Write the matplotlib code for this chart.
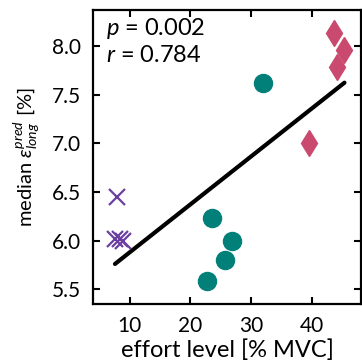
import numpy as np
import matplotlib
matplotlib.use("Agg")
import matplotlib.pyplot as plt

plt.rcParams['font.family'] = ['Lato', 'DejaVu Sans']
plt.rcParams['mathtext.fontset'] = 'custom'
plt.rcParams['mathtext.rm'] = 'Lato'
plt.rcParams['mathtext.it'] = 'Lato:italic'

# datos
x_low = [7.9, 7.6, 8.4, 9.0]
y_low = [6.45, 6.02, 6.02, 6.0]
x_mid = [31.85, 23.6, 26.9, 25.7, 22.7]
y_mid = [7.62, 6.23, 6.0, 5.80, 5.585]
x_high = [43.5, 45.3, 44.1, 39.4]
y_high = [8.13, 7.96, 7.78, 7.0]

x_all = np.array(x_low + x_mid + x_high)
y_all = np.array(y_low + y_mid + y_high)
m, b = np.polyfit(x_all, y_all, 1)
xf = np.array([x_all.min(), x_all.max()])

fig = plt.figure(figsize=(3.62, 3.64), dpi=100)
ax = fig.add_axes([0.257, 0.165, 0.740, 0.808])

ax.plot(xf, m * xf + b, color='black', lw=3, solid_capstyle='round', zorder=1)
ax.plot(x_low, y_low, 'x', color='#6b3fa0', ms=11, mew=1.6, zorder=2)
ax.plot(x_mid, y_mid, 'o', color='#008078', ms=13, zorder=2)
ax.plot(x_high, y_high, 'd', color='#c94a6e', ms=13, zorder=2)

ax.set_xlim(4, 48)
ax.set_ylim(5.35, 8.37)
ax.set_xticks([10, 20, 30, 40])
ax.set_yticks([5.5, 6.0, 6.5, 7.0, 7.5, 8.0])
ax.tick_params(direction='in', top=True, right=True, length=5, width=1.5,
               labelsize=15, pad=9)
for s in ax.spines.values():
    s.set_linewidth(1.6)

ax.set_xlabel('effort level [% MVC]', fontsize=17, labelpad=2)
ax.set_ylabel(r'median $\varepsilon^{pred}_{long}$ [%]', fontsize=14.5, labelpad=7)

ax.text(0.05, 0.98, '$p$ = 0.002\n$r$ = 0.784', transform=ax.transAxes,
        va='top', ha='left', fontsize=17, linespacing=1.25)

plt.savefig('out.png', dpi=100)
